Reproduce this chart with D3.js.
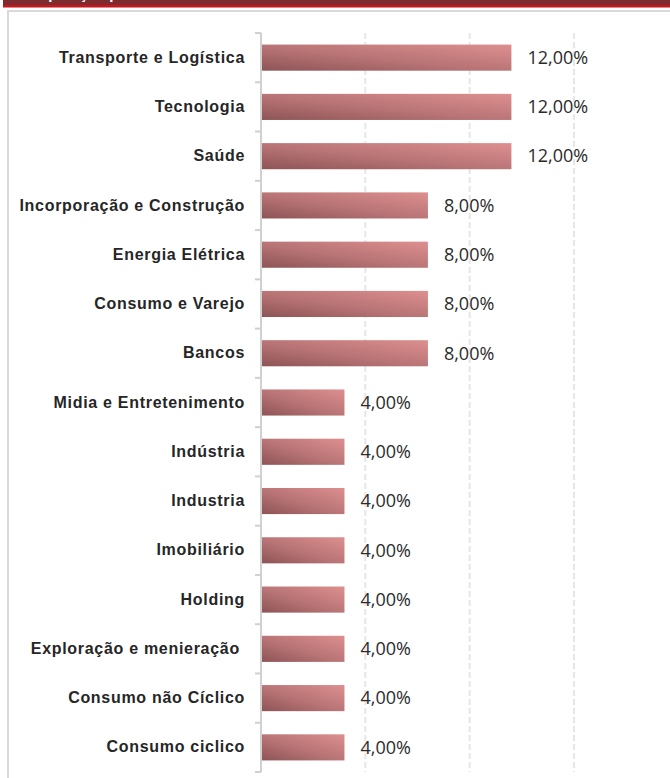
<!DOCTYPE html>
<html>
<head>
<meta charset="utf-8">
<script src="https://cdn.jsdelivr.net/npm/d3@7"></script>
<style>
body { margin: 0; background: #fff; }
.y.axis text { white-space: pre; }
</style>
</head>
<body>
<div id="chart-area"></div>
<script>
var categories = ["Transporte e Logística", "Tecnologia", "Saúde", "Incorporação e Construção",
    "Energia Elétrica", "Consumo e Varejo", "Bancos", "Midia e Entretenimento", "Indústria",
    "Industria", "Imobiliário", "Holding", "Exploração e menieração ", "Consumo não Cíclico", "Consumo ciclico"];
var values = [12, 12, 12, 8, 8, 8, 8, 4, 4, 4, 4, 4, 4, 4, 4];
var gridTicks = [5, 10, 15];

var W = 670, H = 778;
var margin = {top: 33, left: 261, bottom: 6, right: 0},
    width = 574 - margin.left,
    height = 772 - margin.top;

var svg = d3.select("#chart-area").append("svg")
    .attr("width", W)
    .attr("height", H);

var defs = svg.append("defs");
var grad = defs.append("linearGradient")
    .attr("id", "barGrad")
    .attr("x1", "0%").attr("y1", "100%")
    .attr("x2", "100%").attr("y2", "0%");
grad.append("stop").attr("offset", "0%").attr("stop-color", "#8e5456");
grad.append("stop").attr("offset", "45%").attr("stop-color", "#b77375");
grad.append("stop").attr("offset", "100%").attr("stop-color", "#de8f8f");

// header strip (title mostly cropped off in the original)
svg.append("rect").attr("x", 3).attr("y", 0).attr("width", W).attr("height", 6).attr("fill", "#7e2b30");
svg.append("rect").attr("x", 3).attr("y", 5).attr("width", W).attr("height", 2.5).attr("fill", "#c8141c");
svg.append("text").attr("x", 30).attr("y", -1)
    .attr("font-family", "Liberation Sans, Arial, sans-serif").attr("font-weight", "bold")
    .attr("font-size", 15).attr("fill", "#fff").text("Exposição por Setor");

// panel border
svg.append("path")
    .attr("d", "M8," + H + "V11H" + W)
    .attr("fill", "none").attr("stroke", "#d9d9d9").attr("stroke-width", 2);

var g = svg.append("g")
    .attr("transform", "translate(" + margin.left + ", " + margin.top + ")");

var x = d3.scaleLinear().domain([0, 15]).range([0, width]);
var y = d3.scaleBand().domain(categories).range([0, height]).paddingInner(0.47).paddingOuter(0.235);

// gridlines
g.selectAll(".grid").data(gridTicks).enter().append("line")
    .attr("class", "grid")
    .attr("x1", (d) => x(d)).attr("x2", (d) => x(d))
    .attr("y1", 0).attr("y2", height)
    .attr("stroke", "#e6e6e6").attr("stroke-width", 2)
    .attr("stroke-dasharray", "6,3");

// category axis
var yAxisCall = d3.axisLeft(y).tickSize(0).tickPadding(16);
var yAxis = g.append("g").attr("class", "y axis").call(yAxisCall);
yAxis.select(".domain").remove();
yAxis.selectAll("text")
    .attr("font-family", "Liberation Sans, Arial, sans-serif")
    .attr("font-weight", "bold")
    .attr("font-size", 16)
    .attr("letter-spacing", "0.7px")
    .attr("fill", "#262626");

// axis line with band ticks
var step = y.step();
var boundaries = d3.range(categories.length + 1).map((i) => i * step);
g.append("line").attr("x1", 0).attr("x2", 0).attr("y1", 0).attr("y2", height)
    .attr("stroke", "#d0d0d0").attr("stroke-width", 2);
g.selectAll(".btick").data(boundaries).enter().append("line")
    .attr("class", "btick")
    .attr("x1", -6).attr("x2", 0)
    .attr("y1", (d) => d).attr("y2", (d) => d)
    .attr("stroke", "#d0d0d0").attr("stroke-width", 2);

// bars
g.selectAll(".bar").data(values).enter().append("rect")
    .attr("class", "bar")
    .attr("x", 1)
    .attr("y", (d, i) => y(categories[i]))
    .attr("width", (d) => x(d) - 1)
    .attr("height", y.bandwidth())
    .attr("fill", "url(#barGrad)");

var fmt = (d) => d.toFixed(2).replace(".", ",") + "%";
g.selectAll(".val").data(values).enter().append("text")
    .attr("class", "val")
    .attr("x", (d) => x(d) + 16)
    .attr("y", (d, i) => y(categories[i]) + y.bandwidth() / 2)
    .attr("dy", "0.35em")
    .attr("font-family", "Open Sans, sans-serif")
    .attr("font-size", 18)
    .attr("fill", "#2b2b2b")
    .text(fmt);
</script>
</body>
</html>
